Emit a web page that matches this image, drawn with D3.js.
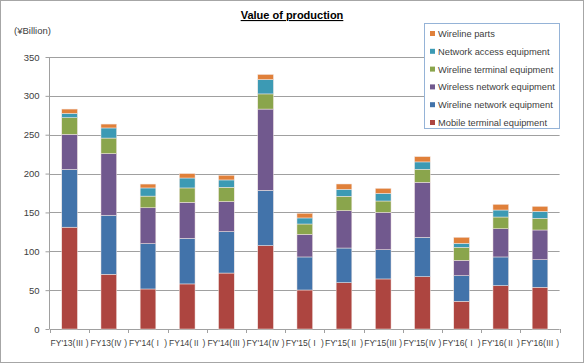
<!DOCTYPE html>
<html>
<head>
<meta charset="utf-8">
<script src="https://cdn.jsdelivr.net/npm/d3@7"></script>
<style>
    body { margin: 0; background: #fff; }
    svg text { font-family: "Liberation Sans", "Noto Sans CJK JP", sans-serif; fill: #404040; }
</style>
</head>
<body>
<svg id="chart" width="584" height="363"></svg>
<script>
// quarters on the x axis
var categories = ["FY'13(Ⅲ)", "FY13(Ⅳ)", "FY'14(Ⅰ)", "FY14(Ⅱ)", "FY'14(Ⅲ)", "FY'14(Ⅳ)",
    "FY'15(Ⅰ)", "FY'15(Ⅱ)", "FY'15(Ⅲ)", "FY'15(Ⅳ)", "FY'16(Ⅰ)", "FY'16(Ⅱ)", "FY'16(Ⅲ)"];

// series, bottom to top
var mobileTerminal   = [131, 70.4, 51.5, 58, 72, 107.3, 50.2, 59.6, 64.4, 67.3, 35.6, 55.8, 53.7];
var wirelineNetwork  = [74.5, 76, 58.3, 58.7, 53.3, 71.2, 42.5, 44.6, 37.6, 50.7, 33, 36.9, 35.5];
var wirelessNetwork  = [45, 79.3, 46.2, 46.3, 38.7, 104.5, 29.1, 48.1, 48.1, 70.8, 19.8, 36.3, 38.2];
var wirelineTerminal = [21.5, 20, 15, 18.5, 18.4, 19.5, 13.3, 18.5, 14.6, 16.7, 16.7, 15.1, 15];
var networkAccess    = [5.5, 13, 10.5, 12.8, 9.4, 18.5, 7.8, 9, 9.9, 9.5, 5.2, 9, 9];
var wirelineParts    = [5.5, 5, 5, 5.7, 6, 6.5, 6, 6.8, 6.4, 6.8, 7.7, 7.3, 6.4];

var seriesNames = ["Mobile terminal equipment", "Wireline network equipment", "Wireless network equipment",
    "Wireline terminal equipment", "Network access equipment", "Wireline parts"];
var seriesValues = [mobileTerminal, wirelineNetwork, wirelessNetwork, wirelineTerminal, networkAccess, wirelineParts];
var colors = ["#AD4540", "#4273AA", "#71598E", "#8AA54C", "#3C9AB4", "#E0803A"];

var yTicks = [0, 50, 100, 150, 200, 250, 300, 350];

var svg = d3.select("#chart");

// outer frame
svg.append("rect")
    .attr("x", 0.5).attr("y", 0.5)
    .attr("width", 583).attr("height", 362)
    .attr("fill", "#fff")
    .attr("stroke", "#a6a6a6");

var x = d3.scaleBand()
    .domain(categories)
    .range([50, 559.6])
    .paddingInner(0.6)
    .paddingOuter(0.3);

var y = d3.scaleLinear()
    .domain([0, 350])
    .range([329, 57]);

// gridlines
svg.append("g")
    .selectAll("line")
    .data(yTicks)
    .enter().append("line")
        .attr("x1", 50).attr("x2", 559.6)
        .attr("y1", function(d) { return Math.round(y(d)) + 0.5; })
        .attr("y2", function(d) { return Math.round(y(d)) + 0.5; })
        .attr("stroke", "#a0a0a0");

// y axis
var yAxis = svg.append("g")
    .attr("transform", "translate(49.5,0)")
    .call(d3.axisLeft(y).tickValues(yTicks).tickSize(4).tickPadding(6));
yAxis.select(".domain").attr("stroke", "#a0a0a0").attr("d", "M0," + y(350) + "V" + y(0));
yAxis.selectAll(".tick line").attr("stroke", "#a0a0a0");
yAxis.selectAll(".tick text").attr("font-size", 9.5).style("fill", "#404040");

// x axis, ticks between categories
var bounds = d3.range(categories.length + 1).map(function(i) { return 50 + i * (559.6 - 50) / categories.length; });
svg.append("g")
    .selectAll("line")
    .data(bounds)
    .enter().append("line")
        .attr("x1", function(d) { return Math.round(d) + 0.5; })
        .attr("x2", function(d) { return Math.round(d) + 0.5; })
        .attr("y1", 329).attr("y2", 333)
        .attr("stroke", "#a0a0a0");

// labels: latin part plus a full-width roman numeral
var xLabels = svg.append("g")
    .selectAll("text")
    .data(categories)
    .enter().append("text")
        .attr("x", function(d) { return x(d) + x.bandwidth() / 2; })
        .attr("y", 346)
        .attr("text-anchor", "middle")
        .attr("font-size", 8.5);
xLabels.append("tspan").text(function(d) { return d.split("(")[0] + "("; });
xLabels.append("tspan")
    .style("font-family", "'Noto Sans CJK JP'")
    .attr("font-size", 8)
    .text(function(d) { return d.split("(")[1].replace(")", ""); });
xLabels.append("tspan").text(" )");

// stacked bars
var table = categories.map(function(c, i) {
    var row = { cat: c };
    seriesNames.forEach(function(s, j) { row[s] = seriesValues[j][i]; });
    return row;
});
var stacked = d3.stack().keys(seriesNames)(table);

svg.append("g")
    .selectAll("g")
    .data(stacked)
    .enter().append("g")
        .attr("fill", function(d, i) { return colors[i]; })
    .selectAll("rect")
    .data(function(d) { return d; })
    .enter().append("rect")
        .attr("x", function(d) { return x(d.data.cat); })
        .attr("width", x.bandwidth())
        .attr("y", function(d) { return y(d[1]); })
        .attr("height", function(d) { return y(d[0]) - y(d[1]); })
        .attr("stroke", "#f4e8e4")
        .attr("stroke-width", 0.5);

// title
svg.append("text")
    .attr("x", 292)
    .attr("y", 19)
    .attr("text-anchor", "middle")
    .attr("font-size", 11)
    .attr("font-weight", "bold")
    .attr("text-decoration", "underline")
    .style("fill", "#000")
    .text("Value of production");

svg.append("text")
    .attr("x", 14)
    .attr("y", 34)
    .attr("font-size", 9.5)
    .text("(¥Billion)");

// legend, top series first
var legend = svg.append("g");
legend.append("rect")
    .attr("x", 424.5).attr("y", 23.5)
    .attr("width", 135).attr("height", 105)
    .attr("fill", "#fff")
    .attr("stroke", "#95b3d7");

var items = legend.selectAll("g")
    .data(seriesNames.slice().reverse())
    .enter().append("g")
        .attr("transform", function(d, i) { return "translate(430," + (33.5 + i * 17.8) + ")"; });
items.append("rect")
    .attr("x", 0).attr("y", -2.5)
    .attr("width", 5).attr("height", 5)
    .attr("fill", function(d) { return colors[seriesNames.indexOf(d)]; });
items.append("text")
    .attr("x", 8)
    .attr("y", 3.5)
    .attr("font-size", 9.3)
    .text(function(d) { return d; });
</script>
</body>
</html>
